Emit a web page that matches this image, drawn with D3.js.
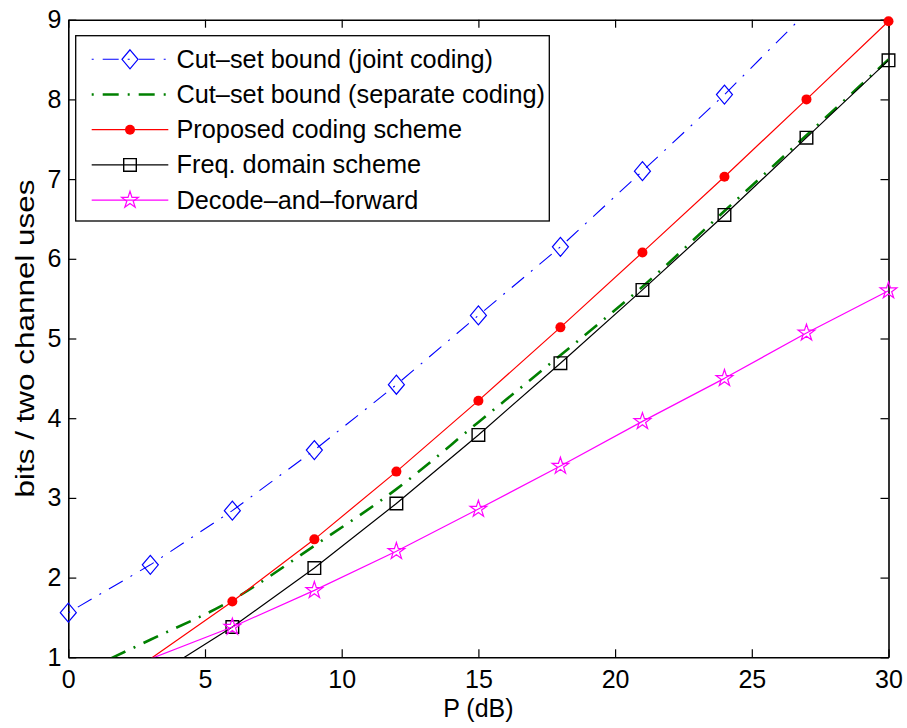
<!DOCTYPE html>
<html><head><meta charset="utf-8">
<script src="https://cdn.jsdelivr.net/npm/d3@7"></script>
<style>
body{margin:0;background:#fff}
svg{display:block}
text{font-family:"Liberation Sans",Arial,Helvetica,sans-serif}
</style>
</head><body><div id="chart"></div>
<script>
// ---- data ----
const pdB = [0, 3, 6, 9, 12, 15, 18, 21, 24, 27, 30];
const xTickValues = [0, 5, 10, 15, 20, 25, 30];
const yTickValues = [1, 2, 3, 4, 5, 6, 7, 8, 9];
const cutsetJoint    = [1.56, 2.16, 2.84, 3.60, 4.42, 5.29, 6.15, 7.10, 8.06, 9.09, 10.1];
const cutsetSeparate = [0.74, 1.22, 1.72, 2.40, 3.11, 3.95, 4.79, 5.65, 6.60, 7.55, 8.50];
const proposed       = [null, 0.98, 1.70, 2.48, 3.33, 4.22, 5.14, 6.08, 7.03, 8.00, 8.98];
const freqDomain     = [null, 0.73, 1.38, 2.12, 2.93, 3.79, 4.69, 5.61, 6.55, 7.52, 8.49];
const decodeForward  = [null, 0.98, 1.38, 1.84, 2.33, 2.86, 3.40, 3.96, 4.50, 5.07, 5.60];
const seriesNames = [
  "Cut\u2013set bound (joint coding)",
  "Cut\u2013set bound (separate coding)",
  "Proposed coding scheme",
  "Freq. domain scheme",
  "Decode\u2013and\u2013forward"
];
const xLabel = "P (dB)";
const yLabel = "bits / two channel uses";

// ---- styles ----
const styles = [
  {values: cutsetJoint,    color: "#0000ff", width: 1.1, dash: "2,9,16,9", marker: "diamond", curve: d3.curveLinear},
  {values: cutsetSeparate, color: "#008000", width: 2.6, dash: "2,9,16,9", marker: null,      curve: d3.curveMonotoneX},
  {values: proposed,       color: "#ff0000", width: 1.2, dash: null,       marker: "circle",  curve: d3.curveLinear},
  {values: freqDomain,     color: "#000000", width: 1.2, dash: null,       marker: "square",  curve: d3.curveLinear},
  {values: decodeForward,  color: "#ff00ff", width: 1.2, dash: null,       marker: "star",    curve: d3.curveLinear}
];

const W = 907, H = 728;
const pLeft = 68.3, pRight = 888.5, pTop = 19.7, pBottom = 657.3;
const FS = 25;

const x = d3.scaleLinear().domain([0, 30]).range([pLeft, pRight]);
const y = d3.scaleLinear().domain([1, 9]).range([pBottom, pTop]);

const svg = d3.select("#chart").append("svg").attr("width", W).attr("height", H);
svg.append("rect").attr("width", W).attr("height", H).attr("fill", "#fff");

// ---- axes ----
function styleAxis(g){
  g.selectAll("path.domain").attr("stroke", "#000").attr("stroke-width", 1.6);
  g.selectAll(".tick line").attr("stroke", "#000").attr("stroke-width", 1.2);
  g.selectAll(".tick text").attr("fill", "#000").style("font-size", FS + "px")
    .style("font-family", '"Liberation Sans",Arial,sans-serif');
}
svg.append("g").attr("transform", `translate(0,${pBottom})`)
  .call(d3.axisBottom(x).tickValues(xTickValues).tickSizeInner(-8).tickSizeOuter(0).tickPadding(13).tickFormat(d3.format("d")))
  .call(styleAxis);
svg.append("g").attr("transform", `translate(0,${pTop})`)
  .call(d3.axisTop(x).tickValues(xTickValues).tickSizeInner(-8).tickSizeOuter(0).tickFormat(""))
  .call(styleAxis);
svg.append("g").attr("transform", `translate(${pLeft},0)`)
  .call(d3.axisLeft(y).tickValues(yTickValues).tickSizeInner(-8).tickSizeOuter(0).tickPadding(7).tickFormat(d3.format("d")))
  .call(styleAxis);
svg.append("g").attr("transform", `translate(${pRight},0)`)
  .call(d3.axisRight(y).tickValues(yTickValues).tickSizeInner(-8).tickSizeOuter(0).tickFormat(""))
  .call(styleAxis);

// axis labels
svg.append("text").attr("x", (pLeft + pRight) / 2).attr("y", 717)
  .attr("text-anchor", "middle").style("font-size", FS + "px").text(xLabel);
svg.append("text")
  .attr("transform", `translate(33.5,${(pTop + pBottom) / 2}) rotate(-90)`)
  .attr("text-anchor", "middle").style("font-size", "25.5px")
  .attr("textLength", 318).attr("lengthAdjust", "spacingAndGlyphs").text(yLabel);

// ---- clip ----
svg.append("clipPath").attr("id", "plotclip").append("rect")
  .attr("x", pLeft).attr("y", pTop).attr("width", pRight - pLeft).attr("height", pBottom - pTop);

// ---- markers ----
function markerPath(type){
  if (type === "diamond") return "M0,-9.5L8,0L0,9.5L-8,0Z";
  if (type === "square") return "M-6.3,-6.3H6.3V6.3H-6.3Z";
  if (type === "star") {
    const R = 8.8, r = R * 0.382;
    let p = [];
    for (let i = 0; i < 10; i++) {
      const a = -Math.PI / 2 + i * Math.PI / 5;
      const rr = i % 2 === 0 ? R : r;
      p.push([rr * Math.cos(a), rr * Math.sin(a)]);
    }
    return "M" + p.map(d => d[0].toFixed(2) + "," + d[1].toFixed(2)).join("L") + "Z";
  }
  return null;
}
function drawMarker(g, type, color, cx, cy){
  if (!type) return;
  if (type === "circle") {
    g.append("circle").attr("cx", cx).attr("cy", cy).attr("r", 5).attr("fill", color);
  } else {
    g.append("path").attr("d", markerPath(type)).attr("transform", `translate(${cx},${cy})`)
      .attr("fill", "none").attr("stroke", color).attr("stroke-width", type === "square" ? 1.4 : 1.2);
  }
}

// ---- series ----
const dataG = svg.append("g");
styles.forEach(s => {
  const pts = pdB.map((p, i) => ({p, v: s.values[i]})).filter(d => d.v !== null);
  const line = d3.line().x(d => x(d.p)).y(d => y(d.v)).curve(s.curve);
  dataG.append("path").datum(pts).attr("d", line)
    .attr("clip-path", "url(#plotclip)")
    .attr("fill", "none").attr("stroke", s.color).attr("stroke-width", s.width)
    .attr("stroke-dasharray", s.dash).attr("stroke-linejoin", "round");
  pts.filter(d => d.v >= 1 && d.v <= 9).forEach(d => drawMarker(dataG, s.marker, s.color, x(d.p), y(d.v)));
});

// ---- legend ----
const lg = svg.append("g");
lg.append("rect").attr("x", 75.7).attr("y", 35.7).attr("width", 473.6).attr("height", 185.3)
  .attr("fill", "#fff").attr("stroke", "#000").attr("stroke-width", 1.3);
styles.forEach((s, i) => {
  const cy = 59.3 + i * 35.2;
  lg.append("line").attr("x1", 91.7).attr("x2", 168.3).attr("y1", cy).attr("y2", cy)
    .attr("stroke", s.color).attr("stroke-width", s.width).attr("stroke-dasharray", s.dash);
  drawMarker(lg, s.marker, s.color, 130, cy);
  lg.append("text").attr("x", 176.5).attr("y", cy + 8.5).style("font-size", "25.3px").text(seriesNames[i]);
});
</script>
</body></html>
